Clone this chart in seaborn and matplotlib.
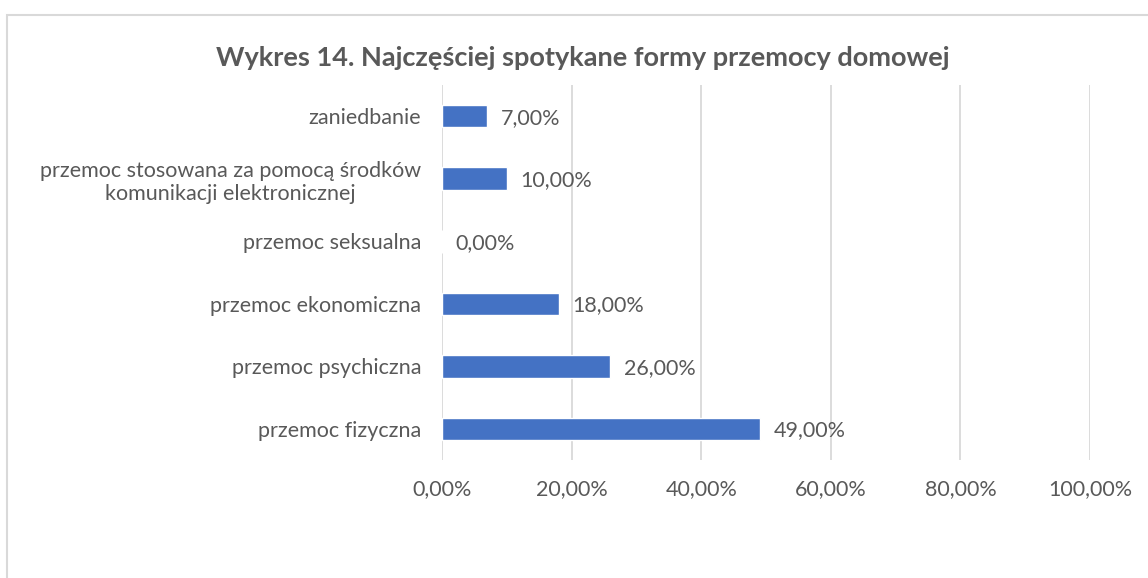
import matplotlib
matplotlib.use("Agg")
import matplotlib.pyplot as plt
from matplotlib.patches import Rectangle
from matplotlib.ticker import FuncFormatter
import seaborn as sns
import pandas as pd

# Data (top to bottom as in the chart)
categories = [
    "zaniedbanie",
    "przemoc stosowana za pomocą środków\nkomunikacji elektronicznej",
    "przemoc seksualna",
    "przemoc ekonomiczna",
    "przemoc psychiczna",
    "przemoc fizyczna",
]
values = [7.0, 10.0, 0.0, 18.0, 26.0, 49.0]
x_ticks = [0, 20, 40, 60, 80, 100]

df = pd.DataFrame({"forma": categories, "procent": values})

sns.set_theme(style="white")
plt.rcParams["font.family"] = ["Lato", "DejaVu Sans"]

text_gray = "#595959"
bar_blue = "#4472C4"
grid_gray = "#D9D9D9"

fig = plt.figure(figsize=(11.48, 5.78), dpi=100)
ax = fig.add_axes([0.385, 0.204, 0.5645, 0.649])

sns.barplot(data=df, x="procent", y="forma", orient="h", color=bar_blue,
            width=0.36, saturation=1, ax=ax)

ax.set_xlim(0, 100)
ax.set_xticks(x_ticks)
ax.xaxis.set_major_formatter(FuncFormatter(lambda v, p: f"{v:.2f}%".replace(".", ",")))
ax.grid(axis="x", color=grid_gray, linewidth=1.3)
ax.set_axisbelow(True)
for s in ax.spines.values():
    s.set_visible(False)
ax.set_xlabel("")
ax.set_ylabel("")
ax.tick_params(axis="both", length=0, labelsize=15.5, labelcolor=text_gray)
ax.tick_params(axis="x", pad=14)
ax.tick_params(axis="y", pad=15)
for lbl in ax.get_yticklabels():
    lbl.set_multialignment("center")

# data labels
for i, v in enumerate(values):
    ax.annotate(f"{v:.2f}%".replace(".", ","), xy=(v, i), xytext=(10, -1),
                textcoords="offset points", va="center", ha="left",
                fontsize=15.5, color=text_gray)

fig.text(0.508, 0.9, "Wykres 14. Najczęściej spotykane formy przemocy domowej",
         ha="center", va="center", fontsize=19.5, fontweight="bold", color=text_gray)

# chart frame (cut off on the right and bottom)
fig.add_artist(Rectangle((7 / 1148, -0.1), 1.2, 1 - 15 / 578 + 0.1,
                         transform=fig.transFigure, fill=False,
                         edgecolor="#D9D9D9", linewidth=1.5))

fig.savefig("out.png", dpi=100)
